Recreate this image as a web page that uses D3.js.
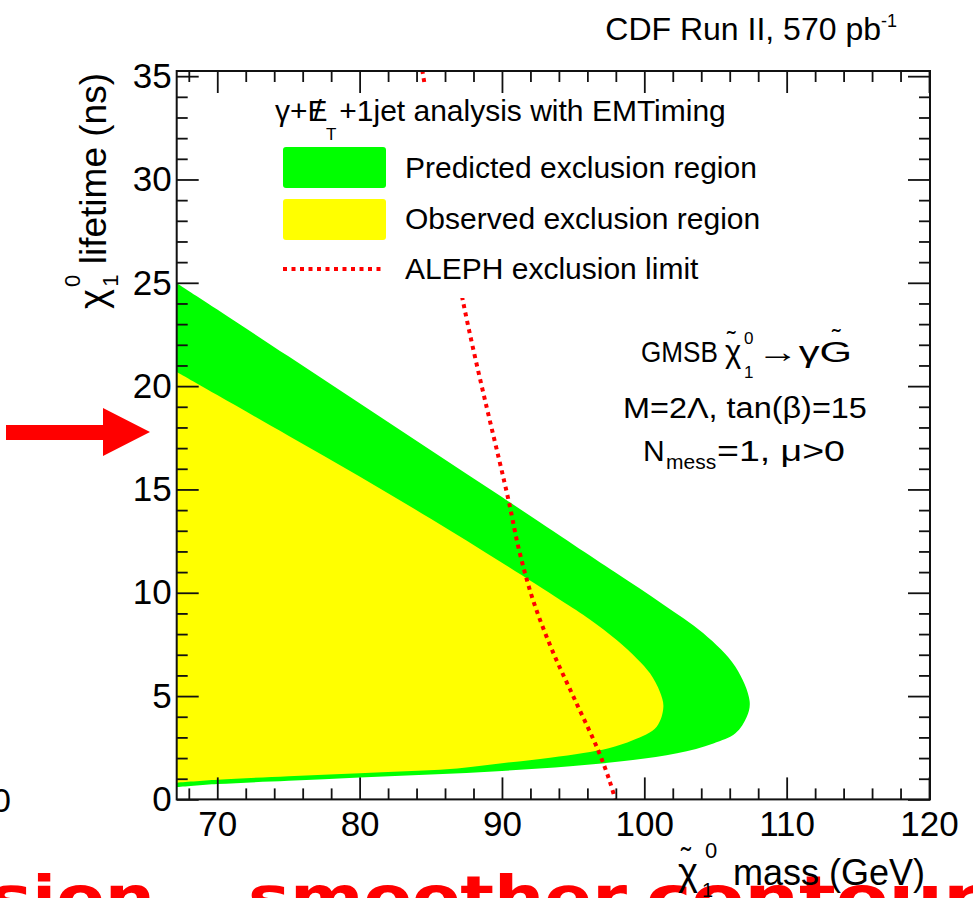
<!DOCTYPE html>
<html><head><meta charset="utf-8">
<script src="https://cdn.jsdelivr.net/npm/d3@7"></script>
<style>
body{margin:0;background:#fff}
svg{display:block}
text{font-family:"Liberation Sans",Arial,Helvetica,sans-serif;fill:#000}
text.slide{font-family:"DejaVu Sans",sans-serif;font-weight:bold;fill:#ff0000}
</style>
</head><body>
<svg id="c" width="973" height="898"></svg>
<script>
// ---------- data ----------
const xTickValues = [70, 80, 90, 100, 110, 120];
const yTickValues = [0, 5, 10, 15, 20, 25, 30, 35];
// predicted exclusion region (green), boundary traced clockwise: upper edge -> nose -> lower edge
const predictedRegion = [[67.0,25.05],[70,23.71],[75,21.44],[80,19.17],[85,16.9],[90,14.63],[95,12.34],[98,10.97],[101.3,9.45],[104.15,8.04],[106.4,6.42],[107.4,4.75],[107.2,4.0],[106.4,3.2],[104.85,2.71],[102.3,2.23],[99.2,1.91],[94.8,1.6],[90,1.38],[85,1.2],[80,1.06],[75,0.9],[70,0.74],[67.0,0.58]];
// observed exclusion region (yellow)
const observedRegion = [[67.0,20.75],[70,19.57],[75,17.6],[80,15.63],[85,13.58],[90,11.45],[94.1,9.65],[96.2,8.7],[98.06,7.71],[99.5,6.8],[100.4,6.1],[101.1,5.2],[101.34,4.48],[100.87,3.52],[99.23,2.87],[97.5,2.48],[95.72,2.25],[93.38,2.02],[90,1.75],[86.35,1.47],[80,1.27],[75,1.12],[70,0.95],[67.0,0.8]];
// ALEPH exclusion limit (red dotted)
const alephLimit = [[84.4,35.3],[87.27,24.08],[90.46,14.48],[91.2,12.07],[92.18,9.65],[93.52,7.23],[95.13,4.81],[96.75,2.39],[97.59,0.84],[97.95,0]];
const legendLabels = ["Predicted exclusion region","Observed exclusion region","ALEPH exclusion limit"];
const legendHeader = "+1jet analysis with EMTiming";

// ---------- setup ----------
const svg = d3.select("#c");
const L = 176.7, R = 930, T = 71, B = 799.4;
const x = d3.scaleLinear().domain([67.15, 120.07]).range([L, R]);
const y = d3.scaleLinear().domain([0, 35.25]).range([B, T]);
const GREEN = "#00ff00", YELLOW = "#ffff00", RED = "#ff0000";

// text stretched horizontally only, to a target width
function fitText(parent, str, x0, y0, size, width, cls){
  const t = parent.append("text").attr("font-size", size).text(str);
  if (cls) t.attr("class", cls);
  const w = t.node().getComputedTextLength();
  t.attr("transform", `translate(${x0},${y0}) scale(${width / w},1)`);
  return t;
}

svg.append("rect").attr("width",973).attr("height",898).attr("fill","#fff");

svg.append("clipPath").attr("id","plotclip").append("rect")
  .attr("x",L).attr("y",T).attr("width",R-L).attr("height",B-T);

const regionLine = d3.line().x(d=>x(d[0])).y(d=>y(d[1])).curve(d3.curveCatmullRom.alpha(0.5));
const plot = svg.append("g").attr("clip-path","url(#plotclip)");
plot.append("path").attr("d", regionLine(predictedRegion)+"Z").attr("fill",GREEN);
plot.append("path").attr("d", regionLine(observedRegion)+"Z").attr("fill",YELLOW);
plot.append("path").attr("d", regionLine(alephLimit)).attr("fill","none")
  .attr("stroke",RED).attr("stroke-width",4).attr("stroke-dasharray","4,4.5");

// ---------- legend (white box hides the limit line) ----------
svg.append("rect").attr("x",262).attr("y",86).attr("width",528).attr("height",212).attr("fill","#fff");
const hdr = svg.append("text").attr("x",275).attr("y",121).attr("font-size",30);
hdr.append("tspan").text("γ+E");
hdr.append("tspan").attr("dx",-14).text("/");
hdr.append("tspan").attr("font-size",17).attr("dx",4).attr("dy",19).text("T");
hdr.append("tspan").attr("dy",-19).attr("dx",3).text(legendHeader);

const legY = [168, 219, 269];
svg.append("rect").attr("x",283).attr("y",147).attr("width",103).attr("height",41).attr("rx",3).attr("fill",GREEN);
svg.append("rect").attr("x",283).attr("y",199).attr("width",103).attr("height",41).attr("rx",3).attr("fill",YELLOW);
svg.append("line").attr("x1",283).attr("x2",382).attr("y1",legY[2]).attr("y2",legY[2])
  .attr("stroke",RED).attr("stroke-width",4).attr("stroke-dasharray","4,4.5");
legendLabels.forEach((t,i)=>{
  svg.append("text").attr("x",405).attr("y",legY[i]+10).attr("font-size",30).text(t);
});

// ---------- annotation ----------
const ann = svg.append("g");
fitText(ann, "GMSB", 641, 362, 30, 77);
ann.append("text").attr("x",725).attr("y",362).attr("font-size",31).text("χ");
ann.append("text").attr("x",727).attr("y",349).attr("font-size",26).text("˜");
ann.append("text").attr("x",744).attr("y",344).attr("font-size",17).text("0");
ann.append("text").attr("x",744).attr("y",378).attr("font-size",17).text("1");
fitText(ann, "→γG", 757, 362, 30, 95);
ann.append("text").attr("x",832).attr("y",347).attr("font-size",26).text("˜");
fitText(ann, "M=2Λ, tan(β)=15", 623, 418, 30, 244);
ann.append("text").attr("x",643).attr("y",461).attr("font-size",30).text("N");
ann.append("text").attr("x",666).attr("y",469).attr("font-size",21).text("mess");
fitText(ann, "=1, μ>0", 717, 461, 30, 128);

// top label
const topLabel = svg.append("text").attr("x",897).attr("y",40).attr("text-anchor","end").attr("font-size",32);
topLabel.append("tspan").text("CDF Run II, 570 pb");
topLabel.append("tspan").attr("font-size",18).attr("dy",-13).text("-1");

// ---------- axes ----------
const xMinor = d3.range(68, 121, 2).filter(v => v % 10 !== 0);
const yMinor = d3.range(1, 36, 1).filter(v => v % 5 !== 0);
function styleAxis(g){ g.select(".domain").remove(); g.selectAll("line").attr("stroke","#111").attr("stroke-width",1.8); g.selectAll("text").attr("font-size",35).attr("fill","#000"); }
svg.append("g").attr("transform",`translate(0,${B})`).call(d3.axisBottom(x).tickValues(xTickValues).tickSize(-22).tickPadding(12).tickFormat(d3.format("d"))).call(styleAxis);
svg.append("g").attr("transform",`translate(0,${B})`).call(d3.axisBottom(x).tickValues(xMinor).tickSize(-11).tickFormat("")).call(styleAxis);
svg.append("g").attr("transform",`translate(0,${T})`).call(d3.axisTop(x).tickValues(xTickValues).tickSize(-22).tickFormat("")).call(styleAxis);
svg.append("g").attr("transform",`translate(0,${T})`).call(d3.axisTop(x).tickValues(xMinor).tickSize(-11).tickFormat("")).call(styleAxis);
svg.append("g").attr("transform",`translate(${L},0)`).call(d3.axisLeft(y).tickValues(yTickValues).tickSize(-22).tickPadding(5).tickFormat(d3.format("d"))).call(styleAxis);
svg.append("g").attr("transform",`translate(${L},0)`).call(d3.axisLeft(y).tickValues(yMinor).tickSize(-11).tickFormat("")).call(styleAxis);
svg.append("g").attr("transform",`translate(${R},0)`).call(d3.axisRight(y).tickValues(yTickValues).tickSize(-22).tickFormat("")).call(styleAxis);
svg.append("g").attr("transform",`translate(${R},0)`).call(d3.axisRight(y).tickValues(yMinor).tickSize(-11).tickFormat("")).call(styleAxis);
svg.append("rect").attr("x",L).attr("y",T).attr("width",R-L).attr("height",B-T)
  .attr("fill","none").attr("stroke","#111").attr("stroke-width",2);

// axis titles
const yt = svg.append("text").attr("transform","translate(106,73) rotate(-90)").attr("text-anchor","end").attr("font-size",37);
yt.append("tspan").attr("font-size",38).text("χ");
yt.append("tspan").attr("font-size",22).attr("dx",2).attr("dy",-26).text("0");
yt.append("tspan").attr("font-size",22).attr("dx",-12).attr("dy",38).text("1");
yt.append("tspan").attr("dy",-12).text(" lifetime (ns)");

// ---------- slide overlays (behind the x-axis title) ----------
svg.append("text").attr("x",11).attr("y",812).attr("text-anchor","end").attr("font-size",34).text("0");
svg.append("path").attr("d","M6,425 L103,425 L103,408 L150,432 L103,456 L103,440 L6,440 Z").attr("fill",RED);
const slideWords = [["sion",-10,165],["smoother",248,379],["contour",646,335]];
slideWords.forEach(w => fitText(svg, w[0], w[1], 918, 58, w[2], "slide"));

svg.append("text").attr("x",925).attr("y",885).attr("text-anchor","end").attr("font-size",36).text("mass (GeV)");
svg.append("text").attr("x",678).attr("y",885).attr("font-size",38).text("χ");
svg.append("text").attr("x",681).attr("y",868).attr("font-size",30).text("˜");
svg.append("text").attr("x",705).attr("y",858).attr("font-size",22).text("0");
svg.append("text").attr("x",702).attr("y",897).attr("font-size",20).text("1");
</script>
</body></html>
